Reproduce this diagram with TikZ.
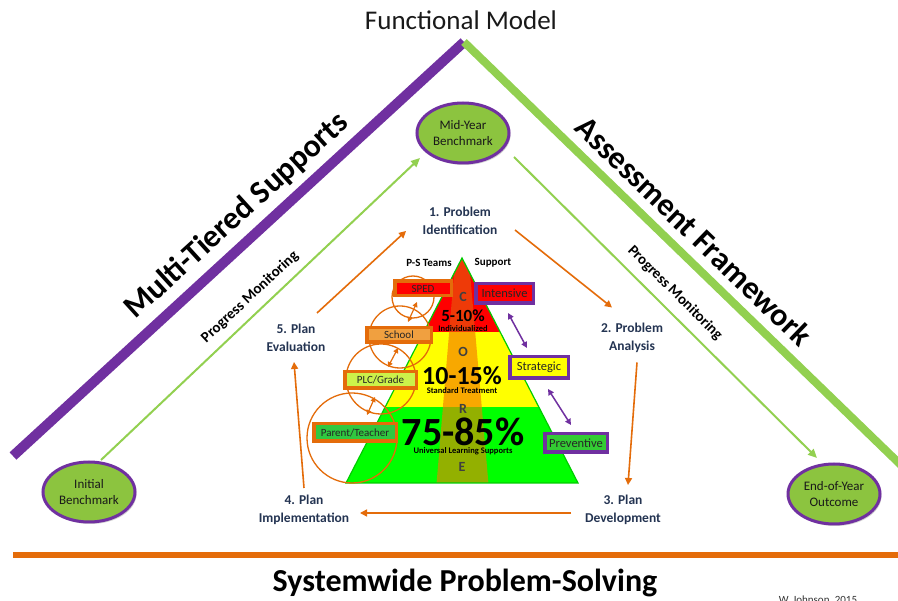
\documentclass[tikz,border=0pt]{standalone}
\usepackage{fontspec}
\setmainfont{Carlito}
\usetikzlibrary{shapes.geometric,arrows.meta,shadows}
\definecolor{mypurple}{HTML}{7030A0}
\definecolor{lgreen}{HTML}{92D050}
\definecolor{benchgreen}{HTML}{8CC43F}
\definecolor{myorange}{HTML}{E46C0A}
\definecolor{navytext}{HTML}{243452}
\definecolor{tierred}{HTML}{FF0000}
\definecolor{tieryellow}{HTML}{FFFF00}
\definecolor{tiergreen}{HTML}{00FF00}
\definecolor{bandR}{HTML}{EE3A08}
\definecolor{bandY}{HTML}{F8A800}
\definecolor{bandG}{HTML}{93B000}
\definecolor{schoolfill}{HTML}{F0A040}
\definecolor{plcfill}{HTML}{CCF24A}
\definecolor{parentfill}{HTML}{30C840}
\definecolor{prevfill}{HTML}{33CC33}
\definecolor{coretext}{HTML}{404040}
\begin{document}
\begin{tikzpicture}[x=1pt,y=-1pt,
  bench/.style={ellipse, draw=mypurple, line width=3pt, fill=benchgreen,
    minimum width=92pt, minimum height=60pt, inner sep=0pt, align=center,
    font=\fontsize{13}{16}\selectfont, text=black!90,
    drop shadow={shadow xshift=1.5pt, shadow yshift=-2pt, fill=black!35}},
  cyclab/.style={font=\bfseries\fontsize{13.5}{18}\selectfont, text=navytext, align=center, inner sep=1pt},
  orarr/.style={draw=myorange, line width=1.6pt, -{Triangle[length=7pt,width=7pt]}},
  garr/.style={draw=lgreen, line width=2pt, -{Triangle[length=9pt,width=8pt]}},
  parr/.style={draw=mypurple, line width=1.5pt, {Triangle[length=6pt,width=6pt]}-{Triangle[length=6pt,width=6pt]}},
  oarr2/.style={draw=myorange, line width=1.2pt, {Triangle[length=5pt,width=5pt]}-{Triangle[length=5pt,width=5pt]}},
  pbox/.style={draw=mypurple, line width=3.5pt, inner sep=0pt, font=\fontsize{12.5}{14}\selectfont, text=black!85},
  obox/.style={draw=myorange, line width=3.5pt, inner sep=0pt, font=\fontsize{11}{13}\selectfont, text=black!85},
  ocirc/.style={draw=myorange, line width=1.3pt},
  coreletter/.style={font=\bfseries\fontsize{14}{14}\selectfont, text=coretext, inner sep=0pt},
  bigpct/.style={font=\bfseries, inner sep=0pt, text=black},
  smalltier/.style={font=\bfseries\fontsize{8.5}{9}\selectfont, inner sep=0pt, text=black},
  sidetitle/.style={font=\bfseries\fontsize{32}{34}\selectfont, inner sep=0pt, text=black},
  pmlabel/.style={font=\bfseries\fontsize{15}{16}\selectfont, inner sep=0pt, text=black}
]
\useasboundingbox (0,0) rectangle (898,601);
\fill[white] (0,0) rectangle (898,601);

% titles
\node[font=\fontsize{27}{29}\selectfont, text=black!90] (title) at (461,20) {Functional Model};
\node[font=\bfseries\fontsize{32}{34}\selectfont, text=black] (bottomtitle) at (465,583) {Systemwide Problem-Solving};
\node[font=\fontsize{11}{12}\selectfont, anchor=base, text=black!80] (author) at (818,604) {W. Johnson, 2015};

% big framework lines
\coordinate (apex) at (464,42);
\coordinate (pleft) at (13,456);
\coordinate (gright) at (904,468);
\draw[mypurple, line width=10pt] (pleft) -- (apex);
\draw[lgreen, line width=8pt] (apex) -- (gright);
\coordinate (oleft) at (13,555);
\coordinate (oright) at (898,555);
\draw[myorange, line width=6pt] (oleft) -- (oright);

\node[sidetitle, rotate=42.3] (mts) at (237,216) {Multi-Tiered Supports};
\node[sidetitle, rotate=-44] (af) at (694,231) {Assessment Framework};

% benchmarks
\node[bench] (mid) at (463,133) {Mid-Year\\Benchmark};
\node[bench] (init) at (89,492) {Initial\\Benchmark};
\node[bench] (eoy) at (834,494) {End-of-Year\\Outcome};

\draw[garr] ([shift={(12,-32)}]init.center) -- ([shift={(-43,25)}]mid.center);
\draw[garr] ([shift={(51,24)}]mid.center) -- ([shift={(-17,-36)}]eoy.center);
\node[pmlabel, rotate=43] (pml) at (250,297) {Progress Monitoring};
\node[pmlabel, rotate=-44.8] (pmr) at (675,293) {Progress Monitoring};

% pyramid
\coordinate (pa) at (462,258);
\coordinate (pl) at (346,483);
\coordinate (pr) at (578,483);
\begin{scope}
  \clip (pa) -- (pl) -- (pr) -- cycle;
  \fill[tierred] (300,250) rectangle (620,332);
  \fill[tieryellow] (300,332) rectangle (620,407);
  \fill[tiergreen] (300,407) rectangle (620,484);
  \clip (456,250) -- (468,250) -- (488.5,484) -- (436.5,484) -- cycle;
  \fill[bandR] (300,250) rectangle (620,332);
  \fill[bandY] (300,332) rectangle (620,407);
  \fill[bandG] (300,407) rectangle (620,484);
\end{scope}
\draw[draw=tiergreen!80!black, line width=1.2pt, line join=miter] (pa) -- (pl) -- (pr) -- cycle;

\node[coreletter] (cC) at (463,297) {C};
\node[coreletter] (cO) at (463,352) {O};
\node[coreletter] (cR) at (463,409) {R};
\node[coreletter] (cE) at (462,467) {E};

\node[font=\bfseries\fontsize{11}{12}\selectfont, inner sep=0pt] (psteams) at (429,263) {P-S Teams};
\node[font=\bfseries\fontsize{11}{12}\selectfont, inner sep=0pt] (support) at (493,263) {Support};

\node[bigpct, font=\bfseries\fontsize{17}{18}\selectfont] (t1) at (463,316) {5-10\%};
\node[smalltier] (t1s) at (463,329) {Individualized};
\node[bigpct, font=\bfseries\fontsize{26}{27}\selectfont] (t2) at (462,376) {10-15\%};
\node[smalltier] (t2s) at (462,391) {Standard Treatment};
\node[bigpct, font=\bfseries\fontsize{40}{41}\selectfont] (t3) at (463,432) {75-85\%};
\node[smalltier] (t3s) at (463,451) {Universal Learning Supports};

% purple boxes
\node[pbox, fill=tierred, minimum width=57.5pt, minimum height=19.5pt] (intensive) at (504.5,293.5) {Intensive};
\node[pbox, fill=tieryellow, minimum width=58.5pt, minimum height=21.5pt] (strategic) at (539,367.5) {Strategic};
\node[pbox, fill=prevfill, minimum width=62.5pt, minimum height=18.5pt] (preventive) at (576,443) {Preventive};
\draw[parr] ([shift={(3.5,19.5)}]intensive.center) -- ([shift={(-12,-19.5)}]strategic.center);
\draw[parr] ([shift={(9,21.5)}]strategic.center) -- ([shift={(-5,-18)}]preventive.center);

% orange circles
\node[ocirc, circle, minimum size=42pt, inner sep=0pt] (csped) at (413,297) {};
\node[ocirc, circle, minimum size=62pt, inner sep=0pt] (cschool) at (400,337) {};
\node[ocirc, circle, minimum size=70pt, inner sep=0pt] (cplc) at (381,379) {};
\node[ocirc, circle, minimum size=90pt, inner sep=0pt] (cparent) at (352,438) {};

\draw[oarr2] ([shift={(4,5)}]csped.center) -- ([shift={(8,-15)}]cschool.center);
\draw[oarr2] ([shift={(-2,11)}]cschool.center) -- ([shift={(7,-12)}]cplc.center);
\draw[oarr2] ([shift={(-6,18)}]cplc.center) -- ([shift={(15,-23)}]cparent.center);

% orange boxes
\node[obox, fill=tierred, minimum width=56.5pt, minimum height=14.5pt] (sped) at (423,288.5) {SPED};
\node[obox, fill=schoolfill, minimum width=64.5pt, minimum height=14.5pt] (school) at (399,335) {School};
\node[obox, fill=plcfill, minimum width=71.5pt, minimum height=16.5pt] (plc) at (380.5,380) {PLC/Grade};
\node[obox, fill=parentfill, minimum width=82.5pt, minimum height=17.5pt] (parent) at (355,432.5) {Parent/Teacher};

% problem-solving cycle
\node[cyclab] (p1) at (460,221) {1. Problem\\Identification};
\node[cyclab] (p2) at (632,337.5) {2. Problem\\Analysis};
\node[cyclab] (p3) at (623,510) {3. Plan\\Development};
\node[cyclab] (p4) at (304,510) {4. Plan\\Implementation};
\node[cyclab] (p5) at (296,338) {5. Plan\\Evaluation};

\draw[orarr] ([shift={(21,-25)}]p5.center) -- ([shift={(-54,10)}]p1.center);
\draw[orarr] ([shift={(55,9)}]p1.center) -- ([shift={(-20,-30)}]p2.center);
\draw[orarr] ([shift={(5,25)}]p2.center) -- ([shift={(5,-25)}]p3.center);
\draw[orarr] ([shift={(-52,3)}]p3.center) -- ([shift={(56,3)}]p4.center);
\draw[orarr] ([shift={(0,-22)}]p4.center) -- ([shift={(-2,24)}]p5.center);
\end{tikzpicture}
\end{document}
